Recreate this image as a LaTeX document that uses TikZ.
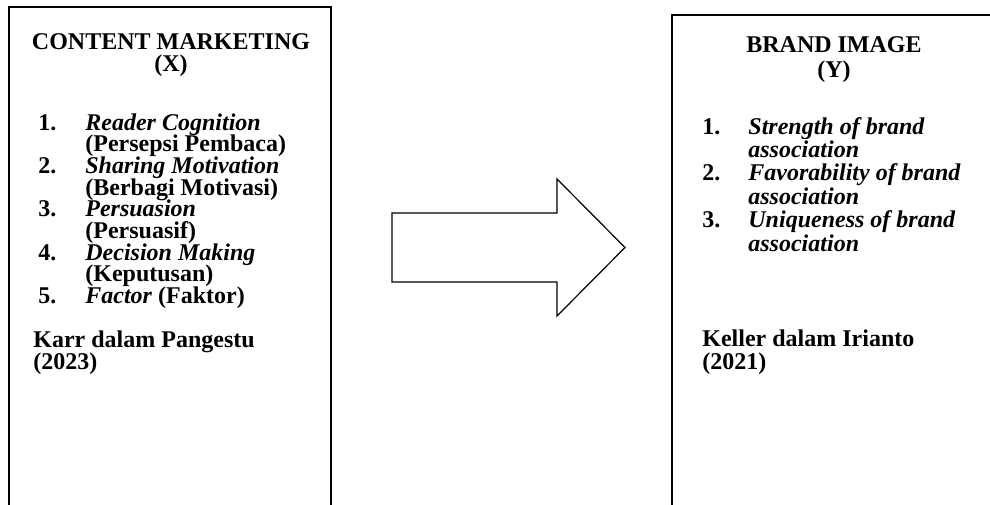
\documentclass[tikz,border=0pt]{standalone}
\usepackage{fontspec}
\setmainfont{Liberation Serif}
\usetikzlibrary{positioning}
\tikzset{
    boxline/.style={draw=black,line width=1pt},
    arrowline/.style={draw=black,line width=0.6pt,line join=miter},
    hdtext/.style={anchor=base,inner sep=0pt,font=\fontsize{12}{14}\selectfont\bfseries},
    numtext/.style={anchor=base west,inner sep=0pt,font=\fontsize{12}{14}\selectfont\bfseries},
    itemtext/.style={anchor=base west,inner sep=0pt,font=\fontsize{12}{14}\selectfont\bfseries\itshape},
    reftext/.style={anchor=base west,inner sep=0pt,font=\fontsize{12}{14}\selectfont\bfseries}
}
\begin{document}
\begin{tikzpicture}[x=0.5pt,y=-0.5pt]
  \useasboundingbox (0,0) rectangle (990,504);

  % kotak variabel X dan Y (bagian bawah terpotong)
  \coordinate (X1) at (9,7);
  \coordinate (X2) at (331,530);
  \coordinate (Y1) at (672,15);
  \coordinate (Y2) at (1010,530);
  \draw[boxline] (X1) rectangle (X2);
  \draw[boxline] (Y1) rectangle (Y2);

  % panah blok X -> Y
  \coordinate (A1) at (392,213);
  \coordinate (A2) at (557,213);
  \coordinate (A3) at (557,179);
  \coordinate (A4) at (625,247.5);
  \coordinate (A5) at (557,316);
  \coordinate (A6) at (557,282);
  \coordinate (A7) at (392,282);
  \draw[arrowline] (A1)--(A2)--(A3)--(A4)--(A5)--(A6)--(A7)--cycle;

  % kotak X
  \node[hdtext] (hX1) at (171,49) {CONTENT MARKETING};
  \node[hdtext] (hX2) at (171,71) {(X)};

  \node[numtext] (n1) at (38,130) {1.};
  \node[itemtext] (i1) at (85,130) {Reader Cognition};
  \node[numtext] (j1) at (85,151.7) {(Persepsi Pembaca)};
  \node[numtext] (n2) at (38,173.4) {2.};
  \node[itemtext] (i2) at (85,173.4) {Sharing Motivation};
  \node[numtext] (j2) at (85,195.1) {(Berbagi Motivasi)};
  \node[numtext] (n3) at (38,216.8) {3.};
  \node[itemtext] (i3) at (85,216.8) {Persuasion};
  \node[numtext] (j3) at (85,238.5) {(Persuasif)};
  \node[numtext] (n4) at (38,260.2) {4.};
  \node[itemtext] (i4) at (85,260.2) {Decision Making};
  \node[numtext] (j4) at (85,281.9) {(Keputusan)};
  \node[numtext] (n5) at (38,303.6) {5.};
  \node[numtext] (i5) at (85,303.6) {\textit{Factor} (Faktor)};

  \node[reftext] (rX1) at (33,347) {Karr dalam Pangestu};
  \node[reftext] (rX2) at (33,369) {(2023)};

  % kotak Y
  \node[hdtext] (hY1) at (834,52) {BRAND IMAGE};
  \node[hdtext] (hY2) at (834,77) {(Y)};

  \node[numtext] (m1) at (702,134) {1.};
  \node[itemtext] (k1) at (748,134) {Strength of brand};
  \node[itemtext] (l1) at (748,157.4) {association};
  \node[numtext] (m2) at (702,180.8) {2.};
  \node[itemtext] (k2) at (748,180.8) {Favorability of brand};
  \node[itemtext] (l2) at (748,204.2) {association};
  \node[numtext] (m3) at (702,227.6) {3.};
  \node[itemtext] (k3) at (748,227.6) {Uniqueness of brand};
  \node[itemtext] (l3) at (748,251) {association};

  \node[reftext] (rY1) at (702,346) {Keller dalam Irianto};
  \node[reftext] (rY2) at (702,369) {(2021)};
\end{tikzpicture}
\end{document}
